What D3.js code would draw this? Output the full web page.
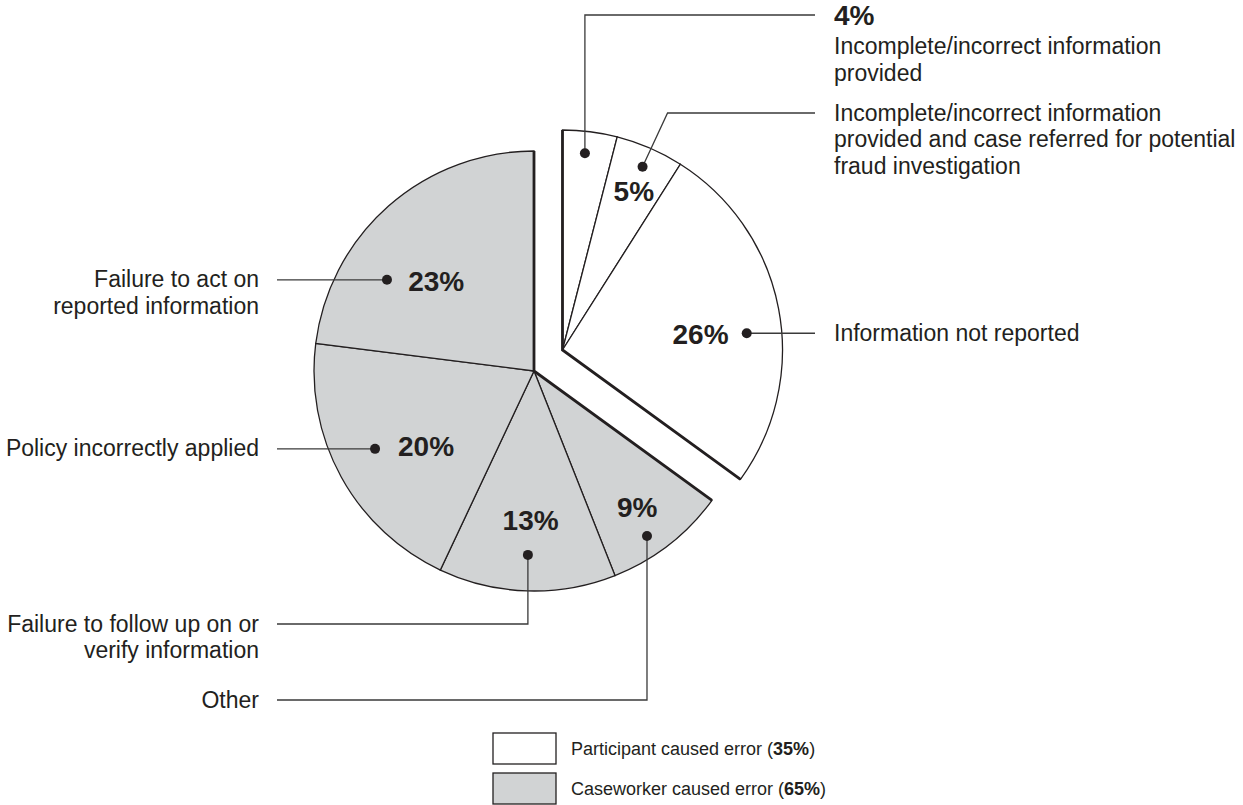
<!DOCTYPE html>
<html>
<head>
<meta charset="utf-8">
<script src="https://cdn.jsdelivr.net/npm/d3@7"></script>
<style>
  body { margin: 0; background: #fff; }
  svg { display: block; font-family: "Liberation Sans", Arial, Helvetica, sans-serif; }
</style>
</head>
<body>
<svg id="chart" width="1243" height="805"></svg>
<script>
// ---- data ----
const categories = [
  "Incomplete/incorrect information provided",
  "Incomplete/incorrect information provided and case referred for potential fraud investigation",
  "Information not reported",
  "Other",
  "Failure to follow up on or verify information",
  "Policy incorrectly applied",
  "Failure to act on reported information"
];
const shares = [4, 5, 26, 9, 13, 20, 23];
const groupOf = [0, 0, 0, 1, 1, 1, 1];
const groups = ["Participant caused error", "Caseworker caused error"];
const groupShares = [35, 65];
// how each category label wraps
const labelLines = [
  ["Incomplete/incorrect information", "provided"],
  ["Incomplete/incorrect information", "provided and case referred for potential", "fraud investigation"],
  ["Information not reported"],
  ["Other"],
  ["Failure to follow up on or", "verify information"],
  ["Policy incorrectly applied"],
  ["Failure to act on", "reported information"]
];

// ---- layout ----
const R = 220;
const center = [534, 371];
const explode = { angle: 53.6, dist: 35.4 };   // participant wedge pulled out
const fills = ["#ffffff", "#d1d3d4"];
const ink = "#231f20";
const rad = Math.PI / 180;

// callouts: dot radius + angle nudge (deg), pct label radius + nudge, leader route
const callouts = [
  { dotR: 198, dotA: -0.7, side: "right", bendY: 15, pctInLabel: true },
  { dotR: 200, dotA: 0.2, pctR: 174, pctA: 0.8, side: "right", bendY: 113, slant: 25 },
  { dotR: 185, dotA: 5.6, pctR: 139, pctA: 4.2, side: "right" },
  { dotR: 200, dotA: 3.4, pctR: 171, pctA: 0.7, side: "left", bendY: 700 },
  { dotR: 184, dotA: 0.1, pctR: 149, pctA: -0.5, side: "left", bendY: 624 },
  { dotR: 177, dotA: 2.7, pctR: 131.5, pctA: -6, side: "left" },
  { dotR: 173, dotA: -16.8, pctR: 133, pctA: -5.9, side: "left" }
];
const leftX = 277, rightX = 815, textGap = 18, lineH = 26.5;

const svg = d3.select("#chart");

const pie = d3.pie().sort(null).value(d => d.v);
const arcs = pie(shares.map((v, i) => ({ v, i, g: groupOf[i] })));
const arc = d3.arc().innerRadius(0).outerRadius(R);

const off = d3.pointRadial(explode.angle * rad, explode.dist);
const centers = [[center[0] + off[0], center[1] + off[1]], center];

// wedges
groups.forEach((name, g) => {
  const gg = svg.append("g").attr("transform", `translate(${centers[g]})`);
  const mine = arcs.filter(a => a.data.g === g);

  gg.selectAll("path.slice")
    .data(mine)
    .enter().append("path")
    .attr("class", "slice")
    .attr("d", arc)
    .attr("fill", fills[g])
    .attr("stroke", ink)
    .attr("stroke-width", 1.3);

  // heavier straight edges of each group
  const a0 = d3.min(mine, a => a.startAngle);
  const a1 = d3.max(mine, a => a.endAngle);
  gg.append("path")
    .attr("d", d3.line()([d3.pointRadial(a0, R), [0, 0], d3.pointRadial(a1, R)]))
    .attr("fill", "none")
    .attr("stroke", ink)
    .attr("stroke-width", 2.8)
    .attr("stroke-linejoin", "miter");
});

// callouts
arcs.forEach((a, i) => {
  const c = callouts[i];
  const o = centers[a.data.g];
  const mid = (a.startAngle + a.endAngle) / 2;
  const dp = d3.pointRadial(mid + c.dotA * rad, c.dotR);
  const dot = [o[0] + dp[0], o[1] + dp[1]];
  const endX = c.side === "right" ? rightX : leftX;
  const rowY = c.bendY != null ? c.bendY : dot[1];

  let pts;
  if (c.bendY == null) pts = [dot, [endX, rowY]];
  else pts = [dot, [dot[0] + (c.slant || 0), rowY], [endX, rowY]];

  svg.append("path")
    .attr("d", d3.line()(pts))
    .attr("fill", "none")
    .attr("stroke", "#3a3a3a")
    .attr("stroke-width", 1.3);

  svg.append("circle")
    .attr("cx", dot[0]).attr("cy", dot[1]).attr("r", 5)
    .attr("fill", ink);

  if (c.pctR) {
    const pp = d3.pointRadial(mid + c.pctA * rad, c.pctR);
    svg.append("text")
      .attr("x", o[0] + pp[0]).attr("y", o[1] + pp[1])
      .attr("dy", "0.36em")
      .attr("text-anchor", "middle")
      .attr("font-weight", "bold")
      .attr("font-size", 28)
      .attr("fill", ink)
      .text(shares[i] + "%");
  }

  const t = svg.append("text")
    .attr("x", c.side === "right" ? endX + textGap + 1 : endX - textGap)
    .attr("text-anchor", c.side === "right" ? "start" : "end")
    .attr("font-size", 23)
    .attr("fill", ink);

  let y = rowY;
  if (c.pctInLabel) {
    t.append("tspan")
      .attr("x", endX + textGap + 1).attr("y", y + 10)
      .attr("font-weight", "bold").attr("font-size", 28)
      .text(shares[i] + "%");
    y += 10 + 29 - 7.6;
  }
  labelLines[i].forEach((line, k) => {
    t.append("tspan")
      .attr("x", c.side === "right" ? endX + textGap + 1 : endX - textGap)
      .attr("y", y + 7.6 + k * lineH)
      .text(line);
  });
});

// legend
const legend = svg.append("g").attr("transform", "translate(493,733)");
groups.forEach((name, g) => {
  const row = legend.append("g").attr("transform", `translate(0,${g * 40})`);
  row.append("rect")
    .attr("width", 63).attr("height", 31)
    .attr("fill", fills[g])
    .attr("stroke", ink)
    .attr("stroke-width", 1.3);
  const t = row.append("text")
    .attr("x", 78).attr("y", 15.5).attr("dy", "0.35em")
    .attr("font-size", 18).attr("fill", ink);
  t.append("tspan").text(name + " (");
  t.append("tspan").attr("font-weight", "bold").text(groupShares[g] + "%");
  t.append("tspan").text(")");
});
</script>
</body>
</html>
